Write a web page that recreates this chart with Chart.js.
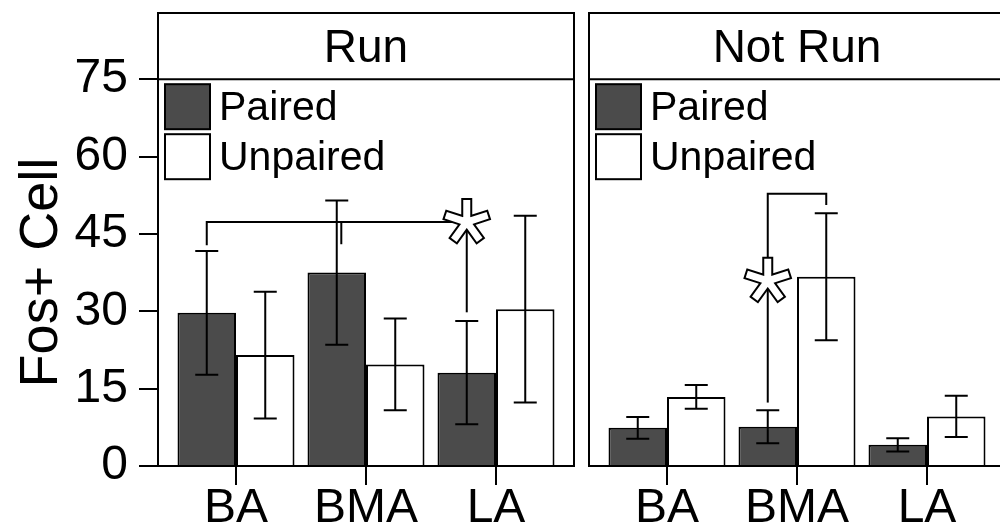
<!DOCTYPE html>
<html>
<head>
<meta charset="utf-8">
<script src="https://cdn.jsdelivr.net/npm/chart.js@4.4.0/dist/chart.umd.min.js"></script>
<style>
  html, body { margin: 0; padding: 0; background: #fff; overflow: hidden; }
  #wrap { position: relative; width: 1000px; height: 531px; overflow: hidden; }
  #run { position: absolute; left: 0; top: 0; }
  #notrun { position: absolute; left: 580px; top: 0; }
</style>
</head>
<body>
<div id="wrap">
  <canvas id="run" width="580" height="531"></canvas>
  <canvas id="notrun" width="430" height="531"></canvas>
</div>
<script>
// Datos (media y error)
const regiones = ['BA', 'BMA', 'LA'];
const posiciones = [1, 2, 3];
const yTicks = [0, 15, 30, 45, 60, 75];

const runPaired = [29.7, 37.5, 18.1];
const runPairedErr = [12.0, 14.0, 10.0];
const runUnpaired = [21.5, 19.7, 30.4];
const runUnpairedErr = [12.3, 8.9, 18.1];

const notRunPaired = [7.4, 7.6, 4.1];
const notRunPairedErr = [2.1, 3.2, 1.3];
const notRunUnpaired = [13.4, 36.7, 9.6];
const notRunUnpairedErr = [2.3, 12.3, 4.0];

const FONT = '"Liberation Sans", Arial, sans-serif';
const GRIS = '#4b4b4b';
Chart.defaults.font.family = FONT;
Chart.defaults.color = '#000';

function serie(label, valores, color) {
  return {
    label: label,
    data: valores.map((v, i) => ({ x: posiciones[i], y: v })),
    backgroundColor: color,
    borderColor: '#000',
    borderWidth: 2,
    categoryPercentage: 0.9,
    barPercentage: 1.0
  };
}

// Barras de error dibujadas con las escalas del gráfico
function barrasError(errores) {
  return {
    id: 'barrasError',
    afterDatasetsDraw(chart) {
      const ctx = chart.ctx, y = chart.scales.y;
      ctx.save();
      ctx.strokeStyle = '#000';
      ctx.lineWidth = 2;
      chart.data.datasets.forEach((ds, d) => {
        chart.getDatasetMeta(d).data.forEach((bar, i) => {
          const v = ds.data[i].y, e = errores[d][i];
          const arriba = y.getPixelForValue(v + e), abajo = y.getPixelForValue(v - e);
          ctx.beginPath();
          ctx.moveTo(bar.x, arriba); ctx.lineTo(bar.x, abajo);
          ctx.moveTo(bar.x - 11.5, arriba); ctx.lineTo(bar.x + 11.5, arriba);
          ctx.moveTo(bar.x - 11.5, abajo); ctx.lineTo(bar.x + 11.5, abajo);
          ctx.stroke();
        });
      });
      ctx.restore();
    }
  };
}

function asterisco(ctx, cx, cy) {
  const angulos = [-90, -18, 54, 126, 198].map(a => a * Math.PI / 180);
  [[11, 24, '#000'], [7, 22, '#fff']].forEach(([ancho, largo, color]) => {
    ctx.lineWidth = ancho;
    ctx.strokeStyle = color;
    ctx.lineCap = 'butt';
    ctx.beginPath();
    angulos.forEach(a => {
      ctx.moveTo(cx, cy);
      ctx.lineTo(cx + largo * Math.cos(a), cy + largo * Math.sin(a));
    });
    ctx.stroke();
  });
}

function linea(ctx, puntos) {
  ctx.beginPath();
  puntos.forEach(([px, py], i) => i ? ctx.lineTo(px, py) : ctx.moveTo(px, py));
  ctx.stroke();
}

// Corchetes de significación
function significancia(dibujar) {
  return {
    id: 'significancia',
    afterDatasetsDraw(chart) {
      const ctx = chart.ctx;
      ctx.save();
      ctx.strokeStyle = '#000';
      ctx.lineWidth = 2;
      dibujar(chart, ctx, chart.scales.x, chart.scales.y);
      ctx.restore();
    }
  };
}

// Marco del panel, franja del título y leyenda
const marco = {
  id: 'marco',
  afterDraw(chart) {
    const ctx = chart.ctx, a = chart.chartArea;
    const arriba = chart.options.layout.padding.top;
    ctx.save();
    ctx.strokeStyle = '#000';
    ctx.lineWidth = 2;
    ctx.strokeRect(a.left, arriba, a.right - a.left, a.bottom - arriba);
    linea(ctx, [[a.left, a.top], [a.right, a.top]]);
    chart.data.datasets.forEach((ds, i) => {
      const bx = a.left + 7, by = a.top + 5 + i * 50;
      ctx.fillStyle = ds.backgroundColor;
      ctx.fillRect(bx, by, 45, 45);
      ctx.strokeRect(bx, by, 45, 45);
      ctx.fillStyle = '#000';
      ctx.font = '41px ' + FONT;
      ctx.textBaseline = 'middle';
      ctx.fillText(ds.label, bx + 54, by + 24);
    });
    ctx.restore();
  }
};

function opciones(titulo, conEjeY) {
  return {
    responsive: false,
    animation: false,
    layout: { padding: { top: 13, right: conEjeY ? 6 : 5, left: conEjeY ? 0 : 9, bottom: 0 } },
    plugins: {
      legend: { display: false },
      tooltip: { enabled: false },
      title: {
        display: true, text: titulo, fullSize: false, color: '#000',
        font: { size: 46, weight: 'normal' }, padding: { top: 9, bottom: 2 }
      }
    },
    scales: {
      x: {
        type: 'linear', min: 0.4, max: 3.6, offset: false,
        afterFit: s => { s.height = 65; },
        ticks: {
          stepSize: 1, includeBounds: false, padding: -5, color: '#000',
          font: { size: 48 }, maxRotation: 0, autoSkip: false,
          callback: v => regiones[posiciones.indexOf(v)] || ''
        },
        grid: { offset: false, drawOnChartArea: false, tickLength: 19, color: '#000', lineWidth: 2 },
        border: { display: true, color: '#000', width: 2 }
      },
      y: {
        display: conEjeY,
        min: yTicks[0], max: yTicks[yTicks.length - 1],
        afterFit: s => { s.width = conEjeY ? 158 : 0; },
        afterBuildTicks: s => { s.ticks = yTicks.map(v => ({ value: v })); },
        ticks: { padding: 11, color: '#000', font: { size: 48 } },
        grid: { drawOnChartArea: false, tickLength: 19, color: '#000', lineWidth: 2 },
        border: { display: true, color: '#000', width: 2 },
        title: { display: true, text: 'Fos+ Cell', color: '#000', font: { size: 54 }, padding: { top: 10, bottom: 0 } }
      }
    }
  };
}

new Chart(document.getElementById('run'), {
  type: 'bar',
  data: { datasets: [serie('Paired', runPaired, GRIS), serie('Unpaired', runUnpaired, '#fff')] },
  options: opciones('Run', true),
  plugins: [
    barrasError([runPairedErr, runUnpairedErr]),
    significancia((chart, ctx, x, y) => {
      const p = chart.getDatasetMeta(0).data;
      const alto = y.getPixelForValue(47.3);
      linea(ctx, [[p[0].x, y.getPixelForValue(42.8)], [p[0].x, alto], [p[2].x, alto]]);
      linea(ctx, [[p[2].x, alto], [p[2].x, y.getPixelForValue(29.8)]]);
      linea(ctx, [[x.getPixelForValue(1.81), alto], [x.getPixelForValue(1.81), y.getPixelForValue(43)]]);
      asterisco(ctx, p[2].x, alto);
    }),
    marco
  ]
});

new Chart(document.getElementById('notrun'), {
  type: 'bar',
  data: { datasets: [serie('Paired', notRunPaired, GRIS), serie('Unpaired', notRunUnpaired, '#fff')] },
  options: opciones('Not Run', false),
  plugins: [
    barrasError([notRunPairedErr, notRunUnpairedErr]),
    significancia((chart, ctx, x, y) => {
      const p = chart.getDatasetMeta(0).data, u = chart.getDatasetMeta(1).data;
      const alto = y.getPixelForValue(52.8), ast = y.getPixelForValue(35.9);
      linea(ctx, [[p[1].x, ast], [p[1].x, alto], [u[1].x, alto], [u[1].x, y.getPixelForValue(50.6)]]);
      linea(ctx, [[p[1].x, ast], [p[1].x, y.getPixelForValue(12.3)]]);
      asterisco(ctx, p[1].x, ast);
    }),
    marco
  ]
});
</script>
</body>
</html>
